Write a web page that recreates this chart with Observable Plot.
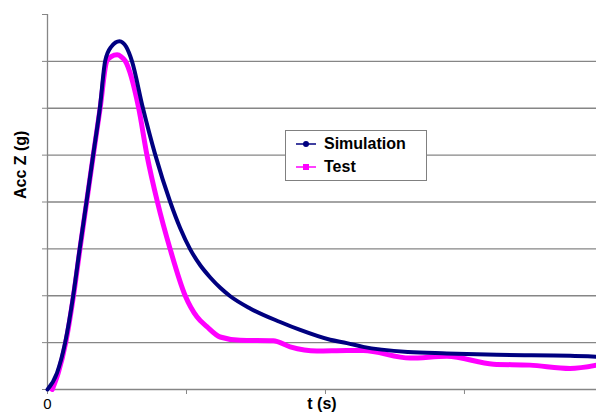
<!DOCTYPE html>
<html>
<head>
<meta charset="utf-8">
<script src="https://cdn.jsdelivr.net/npm/d3@7"></script>
<script src="https://cdn.jsdelivr.net/npm/@observablehq/plot@0.6"></script>
<style>
  html, body { margin: 0; padding: 0; background: #fff; }
  #wrap { position: relative; width: 596px; height: 416px; font-family: "Liberation Sans", Arial, sans-serif; }
  #legend { position: absolute; left: 285px; top: 130px; width: 142px; height: 51px; border: 1px solid #808080; background: #fff; box-sizing: border-box; }
  .entry { position: absolute; left: 10px; display: flex; align-items: center; font-weight: bold; font-size: 16px; color: #000; }
  .entry svg { margin-right: 8px; }
</style>
</head>
<body>
<div id="wrap"></div>
<script>
// Series (x in axis units, tick spacing = 1; y in gridline units)
const simT = [0, 0.068, 0.127, 0.185, 0.232, 0.281, 0.329, 0.377, 0.415, 0.458, 0.518, 0.566, 0.607, 0.686, 0.775, 0.883, 0.955, 1.027, 1.099, 1.171, 1.243, 1.315, 1.458, 1.674, 1.818, 2.034, 2.154, 2.271, 2.595, 2.873, 3.233, 3.76, 3.95];
const simA = [0, 0.35, 1.0, 2.0, 3.01, 4.01, 5.01, 6.01, 7.01, 7.31, 7.43, 7.31, 7.01, 6.01, 5.01, 4.0, 3.44, 2.99, 2.65, 2.39, 2.17, 1.99, 1.73, 1.44, 1.27, 1.06, 0.99, 0.91, 0.80, 0.77, 0.74, 0.72, 0.70];
const testT = [0.034, 0.077, 0.131, 0.187, 0.234, 0.282, 0.330, 0.379, 0.427, 0.458, 0.501, 0.530, 0.559, 0.655, 0.715, 0.791, 0.883, 0.991, 1.075, 1.147, 1.242, 1.386, 1.624, 1.746, 1.938, 2.154, 2.271, 2.609, 2.873, 3.209, 3.471, 3.76, 3.95];
const testA = [0, 0.35, 1.0, 2.0, 3.01, 4.01, 5.01, 6.01, 7.01, 7.1, 7.14, 7.1, 7.01, 6.02, 5.01, 4.0, 2.99, 2.0, 1.55, 1.34, 1.12, 1.05, 1.04, 0.91, 0.82, 0.83, 0.83, 0.67, 0.71, 0.54, 0.52, 0.45, 0.52];
const seriesNames = ["Simulation", "Test"];
const seriesColors = ["#000080", "#ff00ff"];
const yTicks = [0, 1, 2, 3, 4, 5, 6, 7, 8];
const gridY = [1, 2, 3, 4, 5, 6, 7];
const xTicks = [0, 1, 2, 3];
const xTickLabels = ["0", "", "", ""];

const sim = simT.map((t, i) => ({t, a: simA[i]}));
const test = testT.map((t, i) => ({t, a: testA[i]}));

const chart = Plot.plot({
  width: 596,
  height: 416,
  marginLeft: 47,
  marginRight: 0,
  marginTop: 14,
  marginBottom: 27,
  style: {background: "#fff", fontFamily: "'Liberation Sans', Arial, sans-serif", overflow: "visible"},
  x: {domain: [0, 3.95]},
  y: {domain: [0, 8]},
  marks: [
    Plot.ruleY(gridY, {stroke: "#868686", strokeWidth: 1.3}),
    Plot.ruleY([0], {stroke: "#868686", strokeWidth: 1.3}),
    Plot.ruleX([0], {y1: 0, y2: 8, stroke: "#868686", strokeWidth: 1.3}),
    Plot.axisY({ticks: yTicks, tickSize: 5, tickFormat: () => "", label: null, stroke: "#868686"}),
    Plot.axisX({ticks: xTicks, tickSize: 5, tickPadding: 4, tickFormat: (d, i) => xTickLabels[i], label: null, fontSize: 15, stroke: "#868686"}),
    Plot.line(test, {x: "t", y: "a", stroke: seriesColors[1], strokeWidth: 5, curve: "monotone-x"}),
    Plot.line(sim, {x: "t", y: "a", stroke: seriesColors[0], strokeWidth: 4, curve: "monotone-x"}),
    Plot.text(["t (s)"], {frameAnchor: "bottom", dy: 19, fontSize: 16, fontWeight: "bold"}),
    Plot.text(["Acc Z (g)"], {frameAnchor: "left", dx: -27, dy: -3, rotate: -90, fontSize: 16, fontWeight: "bold"})
  ]
});

const wrap = document.getElementById("wrap");
wrap.appendChild(chart);

const legend = document.createElement("div");
legend.id = "legend";
seriesNames.forEach((name, i) => {
  const e = document.createElement("div");
  e.className = "entry";
  e.style.top = (i === 0 ? 4 : 27) + "px";
  const marker = i === 0
    ? `<circle cx="10" cy="8" r="3" fill="${seriesColors[i]}"/>`
    : `<rect x="7" y="5" width="6" height="6" fill="${seriesColors[i]}"/>`;
  e.innerHTML = `<svg width="20" height="16"><line x1="0" y1="8" x2="20" y2="8" stroke="${seriesColors[i]}" stroke-width="1.5"/>${marker}</svg><span>${name}</span>`;
  legend.appendChild(e);
});
wrap.appendChild(legend);
</script>
</body>
</html>
